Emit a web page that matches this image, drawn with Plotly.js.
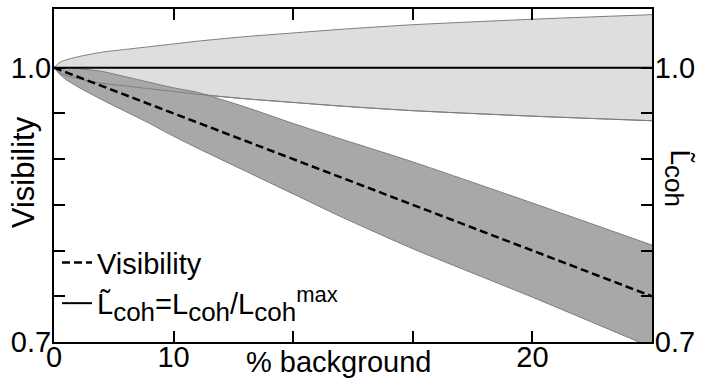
<!DOCTYPE html>
<html><head><meta charset="utf-8">
<script src="https://cdn.plot.ly/plotly-3.0.1.min.js"></script>
<style>html,body{margin:0;padding:0;background:#fff}#chart{width:705px;height:381px}</style>
</head><body><div id="chart"></div>
<script>
// % background (x values)
const background = [0, 0.25, 0.5, 1, 2, 3, 4, 5, 6, 8, 10, 12, 15, 20, 25];
// Visibility (dashed) and its uncertainty band (dark grey)
const visibility = [1.0, 0.9975, 0.995, 0.99, 0.98, 0.97, 0.96, 0.95, 0.94, 0.92, 0.90, 0.88, 0.85, 0.80, 0.75];
const visUpper   = [1.0, 1.0, 1.0, 0.999, 0.996, 0.990, 0.984, 0.978, 0.973, 0.957, 0.939, 0.922, 0.897, 0.852, 0.806];
const visLower   = [1.0, 0.9925, 0.987, 0.979, 0.965, 0.952, 0.939, 0.925, 0.912, 0.887, 0.862, 0.837, 0.802, 0.749, 0.694];
// Normalised coherence length (solid) and its uncertainty band (light grey)
const lcoh       = [1.0, 1.0, 1.0, 1.0, 1.0, 1.0, 1.0, 1.0, 1.0, 1.0, 1.0, 1.0, 1.0, 1.0, 1.0];
const lcohUpper  = [1.0, 1.006, 1.0085, 1.012, 1.017, 1.020, 1.023, 1.026, 1.029, 1.034, 1.038, 1.042, 1.047, 1.053, 1.058];
const lcohLower  = [1.0, 0.994, 0.9915, 0.988, 0.983, 0.980, 0.977, 0.974, 0.971, 0.966, 0.962, 0.958, 0.953, 0.947, 0.942];
// ticks
const xTickVals = [0, 5, 10, 15, 20];
const xTickText = ['0', '10', '', '', '20'];
const yTickVals = [0.7, 0.75, 0.8, 0.85, 0.9, 0.95, 1.0];
const yTickText = ['0.7', '', '', '', '', '', '1.0'];
// labels
const xTitle = '% background';
const yTitle = 'Visibility';
const y2Title = 'L\u0303<sub><span style="font-size:26px">coh</span></sub>';
const visName = 'Visibility';
const lcohName = 'L\u0303<sub><span style="font-size:26px">coh</span></sub>=L<sub><span style="font-size:26px">coh</span></sub>/L<sub><span style="font-size:26px">coh</span></sub><sup><span style="font-size:22px">max</span></sup>';

const FONT = 'Liberation Sans, Arial, Helvetica, sans-serif';
const edge = '#7d7d7d';
const yRange = [0.7, 1.0642];
const sm = {color: edge, width: 1, shape: 'spline', smoothing: 0.6};

const traces = [
  {x: background, y: lcohUpper, mode: 'lines', line: sm, showlegend: false, hoverinfo: 'skip'},
  {x: background, y: lcohLower, mode: 'lines', fill: 'tonexty', fillcolor: '#dedede', line: sm, showlegend: false, hoverinfo: 'skip'},
  {x: background, y: visUpper, mode: 'lines', line: sm, showlegend: false, hoverinfo: 'skip'},
  {x: background, y: visLower, mode: 'lines', fill: 'tonexty', fillcolor: '#a8a8a8', line: sm, showlegend: false, hoverinfo: 'skip'},
  {x: background, y: lcohLower, mode: 'lines', line: sm, showlegend: false, hoverinfo: 'skip'},
  {x: background, y: visibility, mode: 'lines', name: visName, legendrank: 1, line: {color: '#000', width: 2.5, dash: '8px,4px'}},
  {x: background, y: lcoh, mode: 'lines', name: lcohName, legendrank: 2, yaxis: 'y2', line: {color: '#000', width: 2}}
];

const axisCommon = {
  ticks: 'inside', ticklen: 11, tickwidth: 2, tickcolor: '#000',
  showline: true, linewidth: 2, linecolor: '#000',
  showgrid: false, zeroline: false, fixedrange: true,
  tickfont: {family: FONT, size: 29, color: '#000'}
};

const layout = {
  width: 705, height: 381,
  margin: {l: 54, r: 53, t: 9, b: 39},
  paper_bgcolor: '#fff', plot_bgcolor: '#fff',
  font: {family: FONT, color: '#000'},
  showlegend: true,
  legend: {x: 0.005, y: 0.315, xanchor: 'left', yanchor: 'top', bgcolor: 'rgba(0,0,0,0)', traceorder: 'normal',
           font: {family: FONT, size: 29, color: '#000'}, itemwidth: 30, tracegroupgap: 0},
  xaxis: Object.assign({}, axisCommon, {range: [0, 25], tickmode: 'array', tickvals: xTickVals, ticktext: xTickText, mirror: 'ticks', ticklabelstandoff: -12}),
  yaxis: Object.assign({}, axisCommon, {range: yRange, tickmode: 'array', tickvals: yTickVals, ticktext: yTickText, ticklabelstandoff: -5}),
  yaxis2: Object.assign({}, axisCommon, {range: yRange, tickmode: 'array', tickvals: yTickVals, ticktext: yTickText, overlaying: 'y', side: 'right', ticklabelstandoff: -5}),
  annotations: [
    {text: xTitle, xref: 'paper', yref: 'paper', x: 0.475, y: -0.06, xanchor: 'center', yanchor: 'middle', showarrow: false, font: {family: FONT, size: 29}},
    {text: yTitle, xref: 'paper', yref: 'paper', x: -0.0507, y: 0.509, xanchor: 'center', yanchor: 'middle', textangle: -90, showarrow: false, font: {family: FONT, size: 31}},
    {text: y2Title, xref: 'paper', yref: 'paper', x: 1.041, y: 0.4925, xanchor: 'center', yanchor: 'middle', textangle: 90, showarrow: false, font: {family: FONT, size: 28}}
  ]
};

Plotly.newPlot('chart', traces, layout, {staticPlot: true, displayModeBar: false});
</script>
</body></html>
